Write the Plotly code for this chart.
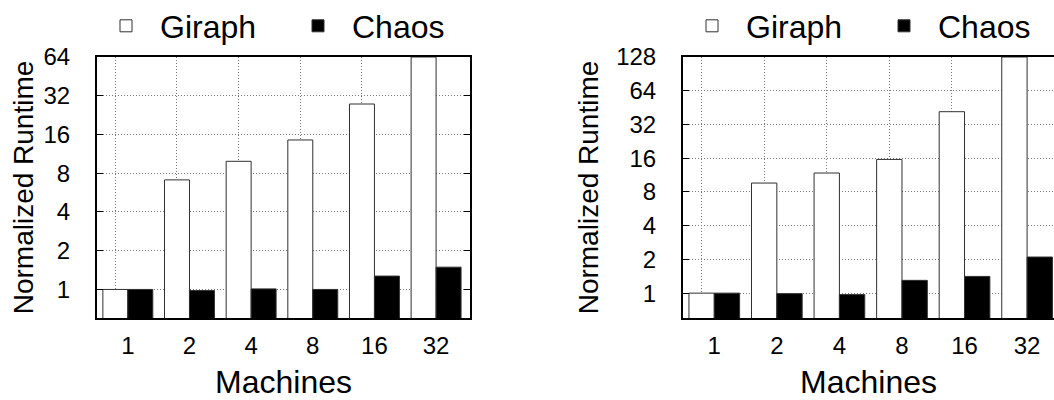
import math
import plotly.graph_objects as go

# ---- data ----
machines = ["1", "2", "4", "8", "16", "32"]
giraph_left = [1.0, 7.1, 9.9, 14.5, 27.6, 64.0]
chaos_left = [1.0, 0.98, 1.01, 1.0, 1.27, 1.49]
giraph_right = [1.0, 9.6, 11.8, 15.6, 41.6, 128.0]
chaos_right = [1.0, 0.99, 0.97, 1.30, 1.41, 2.1]
yticks_left = [1, 2, 4, 8, 16, 32, 64]
yticks_right = [1, 2, 4, 8, 16, 32, 64, 128]

idx = list(range(len(machines)))
BARGAP = 0.19
grid_pos = [i - (1 - BARGAP) / 4 for i in idx]  # centres of the first bar in each group

FONT = "Liberation Sans, Arial, Helvetica, sans-serif"
W, H = 1054, 400

fig = go.Figure()

bar_line = dict(color="#303030", width=1)

fig.add_trace(go.Bar(x=idx, y=giraph_left, name="Giraph", marker=dict(color="white", line=bar_line),
                     xaxis="x", yaxis="y", legend="legend"))
fig.add_trace(go.Bar(x=idx, y=chaos_left, name="Chaos", marker=dict(color="black", line=bar_line),
                     xaxis="x", yaxis="y", legend="legend"))
fig.add_trace(go.Bar(x=idx, y=giraph_right, name="Giraph", marker=dict(color="white", line=bar_line),
                     xaxis="x2", yaxis="y2", legend="legend2"))
fig.add_trace(go.Bar(x=idx, y=chaos_right, name="Chaos", marker=dict(color="black", line=bar_line),
                     xaxis="x2", yaxis="y2", legend="legend2"))
# empty traces so the grid-only overlay axes get drawn
fig.add_trace(go.Scatter(x=[], y=[], xaxis="x3", yaxis="y", showlegend=False, hoverinfo="skip"))
fig.add_trace(go.Scatter(x=[], y=[], xaxis="x4", yaxis="y2", showlegend=False, hoverinfo="skip"))

ydom = [82 / H, 343 / H]
xdom1 = [97 / W, 470 / W]
xdom2 = [683 / W, 1.0]
xr1 = [-0.5, 5.55]
xr2 = [-0.5, 5.43]

grid_kw = dict(showgrid=True, gridcolor="#7a7a7a", gridwidth=1, griddash="1px,2px")
tickfont = dict(family=FONT, size=24, color="black")


def xaxis_main(dom, rng):
    return dict(domain=dom, range=rng, tickvals=idx, ticktext=machines, showgrid=False,
                zeroline=False, showline=True, linecolor="black", linewidth=2, mirror=True,
                ticks="", tickfont=tickfont, ticklabelstandoff=5, automargin=False,
                title=dict(text="Machines", font=dict(family=FONT, size=32, color="black"), standoff=23))


def xaxis_grid(dom, rng, over, anchor):
    return dict(domain=dom, range=rng, overlaying=over, anchor=anchor, tickvals=grid_pos,
                showticklabels=False, ticks="", showline=False, zeroline=False, automargin=False,
                **grid_kw)


def yaxis(dom, ticks, anchor, mirror, standoff):
    return dict(domain=dom, type="log", range=[math.log10(0.6), math.log10(ticks[-1])],
                tickvals=ticks, ticktext=[str(t) for t in ticks], anchor=anchor,
                showline=True, linecolor="black", linewidth=2, mirror=mirror,
                ticks="inside", ticklen=6, tickcolor="black", tickwidth=1,
                tickfont=tickfont, ticklabelstandoff=20, zeroline=False, automargin=False,
                title=dict(text="Normalized Runtime", font=dict(family=FONT, size=28, color="black"),
                           standoff=standoff),
                **grid_kw)


legend_common = dict(orientation="h", font=dict(family=FONT, size=32, color="black"),
                     bgcolor="rgba(0,0,0,0)", itemwidth=58, entrywidth=119, entrywidthmode="pixels",
                     yanchor="middle", xanchor="left", y=(H - 26) / H, itemclick=False, tracegroupgap=0)

fig.update_layout(
    width=W, height=H, autosize=False,
    margin=dict(l=0, r=0, t=0, b=0, autoexpand=False),
    paper_bgcolor="white", plot_bgcolor="white",
    barmode="group", bargap=BARGAP, bargroupgap=0,
    font=dict(family=FONT, color="black"),
    xaxis=dict(anchor="y", **xaxis_main(xdom1, xr1)),
    xaxis2=dict(anchor="y2", **xaxis_main(xdom2, xr2)),
    xaxis3=xaxis_grid(xdom1, xr1, "x", "y"),
    xaxis4=xaxis_grid(xdom2, xr2, "x2", "y2"),
    yaxis=yaxis(ydom, yticks_left, "x", "ticks", 2),
    yaxis2=yaxis(ydom, yticks_right, "x2", False, 9),
    legend=dict(x=92 / W, **legend_common),
    legend2=dict(x=678 / W, **legend_common),
    showlegend=True,
)

fig.write_html("out.html")
